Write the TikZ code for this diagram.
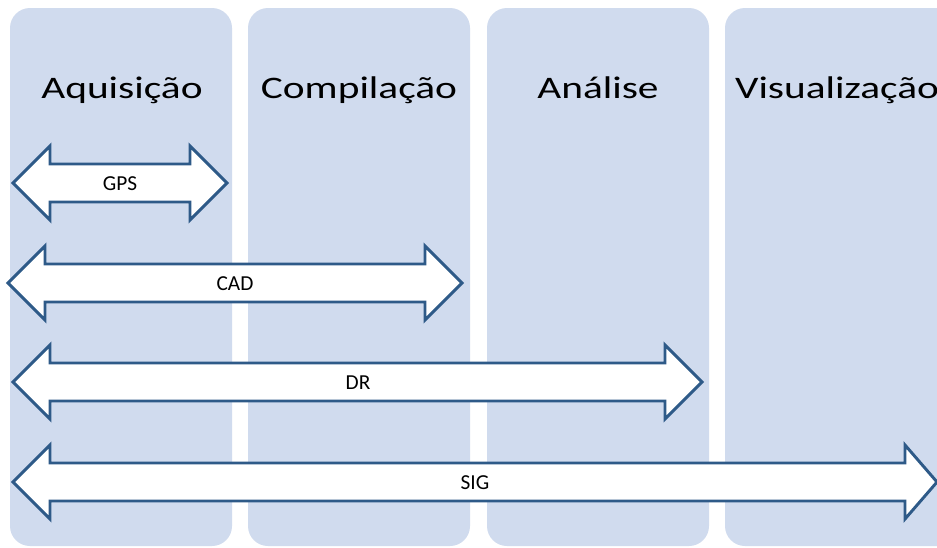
\documentclass[tikz,border=0pt]{standalone}
\usepackage{fontspec}
\setmainfont{Carlito}
\newfontfamily\widefont[FakeStretch=1.32]{Carlito}
\definecolor{colfill}{HTML}{D0DBEE}
\definecolor{arrowline}{HTML}{2E5A88}

\begin{document}
\begin{tikzpicture}[x=0.75pt,y=0.75pt,yscale=-1,xscale=1,
  column/.style={fill=colfill,rounded corners=15pt},
  blockarrow/.style={draw=arrowline,fill=white,line width=2.2pt,line join=miter},
  phase/.style={font=\widefont\fontsize{23.5}{27}\selectfont,anchor=base},
  tool/.style={font=\fontsize{16}{19}\selectfont}]
\clip (0,0) rectangle (937,547);
\fill [white] (0,0) rectangle (937,547);

%Shape: columns
\fill [column] (10,8) rectangle (232,546);
\fill [column] (248,8) rectangle (470,546);
\fill [column] (487,8) rectangle (709,546);
\fill [column] (725,8) rectangle (960,546);

% Text Node
\node [phase] (aquisicao) at (122,98) {Aquisição};
% Text Node
\node [phase] (compilacao) at (359,98) {Compilação};
% Text Node
\node [phase] (analise) at (598,98) {Análise};
% Text Node
\node [phase] (visualizacao) at (837,98) {Visualização};

%Shape: Double Arrow GPS
\draw [blockarrow] (13,183) -- (50,146) -- (50,164) -- (190,164) -- (190,146) -- (227,183) -- (190,220) -- (190,202) -- (50,202) -- (50,220) -- cycle;
%Shape: Double Arrow CAD
\draw [blockarrow] (8,283) -- (45,246) -- (45,264) -- (425,264) -- (425,246) -- (462,283) -- (425,320) -- (425,302) -- (45,302) -- (45,320) -- cycle;
%Shape: Double Arrow DR
\draw [blockarrow] (13,382) -- (50,345) -- (50,363) -- (665,363) -- (665,345) -- (702,382) -- (665,419) -- (665,401) -- (50,401) -- (50,419) -- cycle;
%Shape: Double Arrow SIG
\draw [blockarrow] (13,482) -- (50,445) -- (50,463) -- (905,463) -- (905,445) -- (937,482) -- (905,519) -- (905,501) -- (50,501) -- (50,519) -- cycle;

% Text Node
\node [tool] (gps) at (120,184) {GPS};
% Text Node
\node [tool] (cad) at (235,284) {CAD};
% Text Node
\node [tool] (dr) at (358,383) {DR};
% Text Node
\node [tool] (sig) at (475,483) {SIG};

\end{tikzpicture}
\end{document}
